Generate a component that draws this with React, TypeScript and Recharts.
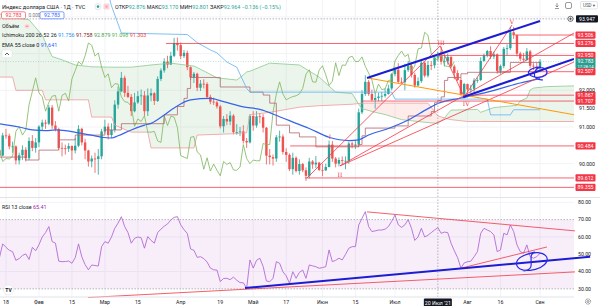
import React from 'react';
import {
  ComposedChart, Bar, Line, Area, XAxis, YAxis, CartesianGrid,
  ReferenceLine, ReferenceArea, ReferenceDot,
} from 'recharts';

const FONT = 'Roboto, "Noto Sans", "DejaVu Sans", sans-serif';
const W = 600;
const H = 306;
const MAIN_H = 197;
const RSI_H = 109;
const AXIS_W = 26;

// bar index 0 = 18 Jan 2021, one step per trading day
const X_MIN = -1.82;
const X_MAX = 172.3;
const P_MIN = 89.0926;
const P_MAX = 94.4605;
const R_MIN = 25.3;
const R_MAX = 82.5;

const UP = '#26a69a';
const DOWN = '#ef5350';
const LEVEL = '#f23645';
const DRAW_BLUE = '#1c1cd4';
const GRID = '#f2f3f6';
const TEXT = '#131722';

// daily candles [open, high, low, close], first row is 14 Jan
const jan = [
  [90.38, 90.45, 90.10, 90.22], [90.22, 90.84, 90.20, 90.77], [90.77, 90.95, 90.68, 90.76],
  [90.76, 90.82, 90.39, 90.47], [90.47, 90.60, 90.30, 90.47], [90.47, 90.50, 89.98, 90.09],
  [90.09, 90.30, 89.98, 90.23], [90.23, 90.50, 90.10, 90.38], [90.38, 90.45, 90.06, 90.15],
  [90.15, 90.72, 90.10, 90.62], [90.62, 90.78, 90.34, 90.43], [90.43, 90.70, 90.30, 90.58],
];
const feb = [
  [90.58, 91.05, 90.45, 91.01], [91.01, 91.20, 90.90, 91.12], [91.12, 91.20, 90.95, 91.09],
  [91.09, 91.60, 91.05, 91.53], [91.53, 91.60, 90.95, 91.04], [91.04, 91.16, 90.88, 90.94],
  [90.94, 90.98, 90.38, 90.43], [90.43, 90.58, 90.20, 90.42], [90.42, 90.52, 90.25, 90.41],
  [90.41, 90.56, 90.32, 90.48], [90.48, 90.50, 90.10, 90.36], [90.36, 90.70, 90.28, 90.49],
  [90.49, 91.05, 90.45, 90.95], [90.95, 90.98, 90.50, 90.58], [90.58, 90.68, 90.12, 90.36],
  [90.36, 90.38, 89.92, 90.06], [90.06, 90.22, 89.90, 90.14], [90.14, 90.30, 89.75, 90.13],
  [90.13, 90.40, 89.70, 90.20], [90.20, 90.95, 90.12, 90.88],
];
const mar = [
  [90.88, 91.20, 90.82, 91.01], [91.01, 91.10, 90.66, 90.78], [90.78, 91.10, 90.70, 90.92],
  [90.92, 91.73, 90.85, 91.61], [91.61, 92.10, 91.50, 91.97], [91.97, 92.50, 91.95, 92.34],
  [92.34, 92.40, 91.82, 91.93], [91.93, 92.12, 91.79, 91.82], [91.82, 91.90, 91.30, 91.43],
  [91.43, 91.93, 91.40, 91.67], [91.67, 91.98, 91.63, 91.84], [91.84, 92.02, 91.60, 91.86],
  [91.86, 91.98, 91.30, 91.43], [91.43, 92.05, 91.30, 91.86], [91.86, 92.05, 91.70, 91.92],
  [91.92, 91.95, 91.60, 91.71], [91.71, 92.38, 91.68, 92.31], [92.31, 92.60, 92.25, 92.54],
  [92.54, 92.87, 92.48, 92.78], [92.78, 92.94, 92.60, 92.70], [92.70, 93.05, 92.70, 92.94],
  [92.94, 93.43, 92.90, 93.29], [93.29, 93.44, 93.08, 93.23],
];
const apr = [
  [93.23, 93.30, 92.85, 92.93], [92.93, 93.10, 92.88, 93.02], [93.02, 93.08, 92.55, 92.63],
  [92.63, 92.65, 92.28, 92.35], [92.35, 92.50, 92.20, 92.45], [92.45, 92.48, 91.98, 92.07],
  [92.07, 92.28, 91.98, 92.18], [92.18, 92.30, 92.05, 92.17], [92.17, 92.22, 91.78, 91.82],
  [91.82, 91.88, 91.62, 91.69], [91.69, 91.80, 91.60, 91.67], [91.67, 91.72, 91.50, 91.56],
  [91.56, 91.60, 90.96, 91.02], [91.02, 91.30, 90.85, 91.22], [91.22, 91.35, 91.05, 91.15],
  [91.15, 91.43, 91.05, 91.31], [91.31, 91.35, 90.80, 90.86], [90.86, 91.08, 90.79, 90.86],
  [90.86, 91.00, 90.75, 90.88], [90.88, 91.05, 90.55, 90.62], [90.62, 90.70, 90.43, 90.58],
  [90.58, 91.35, 90.55, 91.30],
];
const may = [
  [91.30, 91.43, 90.90, 91.04], [91.04, 91.43, 90.98, 91.29], [91.29, 91.38, 91.10, 91.27],
  [91.27, 91.35, 90.85, 90.98], [90.98, 91.00, 89.98, 90.22], [90.22, 90.40, 89.98, 90.18],
  [90.18, 90.25, 89.95, 90.14], [90.14, 90.78, 90.05, 90.72], [90.72, 90.90, 90.60, 90.74],
  [90.74, 90.80, 90.25, 90.32], [90.32, 90.42, 90.05, 90.24], [90.24, 90.28, 89.80, 89.85],
  [89.85, 90.30, 89.70, 90.16], [90.16, 90.20, 89.76, 89.80], [89.80, 90.12, 89.70, 89.99],
  [89.99, 90.02, 89.77, 89.82], [89.82, 89.90, 89.53, 89.67], [89.67, 90.16, 89.60, 90.06],
  [90.06, 90.10, 89.86, 89.98], [89.98, 90.21, 89.88, 90.03], [90.03, 90.05, 89.80, 89.83],
];
const jun = [
  [89.83, 90.00, 89.66, 89.82], [89.82, 90.00, 89.80, 89.91], [89.91, 90.63, 89.90, 90.52],
  [90.52, 90.62, 90.05, 90.14], [90.14, 90.18, 89.90, 90.00], [90.00, 90.17, 89.93, 90.10],
  [90.10, 90.20, 89.98, 90.08], [90.08, 90.20, 89.85, 90.08], [90.08, 90.60, 90.00, 90.55],
  [90.55, 90.60, 90.42, 90.52], [90.52, 90.63, 90.40, 90.52], [90.52, 91.50, 90.45, 91.40],
  [91.40, 92.00, 91.35, 91.90], [91.90, 92.41, 91.85, 92.23], [92.23, 92.28, 91.85, 91.90],
  [91.90, 92.02, 91.70, 91.74], [91.74, 91.90, 91.50, 91.79], [91.79, 91.93, 91.70, 91.83],
  [91.83, 91.95, 91.70, 91.85], [91.85, 92.05, 91.80, 91.90], [91.90, 92.15, 91.88, 92.05],
  [92.05, 92.47, 92.00, 92.44],
];
const jul = [
  [92.44, 92.64, 92.38, 92.56], [92.56, 92.74, 92.20, 92.23], [92.23, 92.35, 92.18, 92.22],
  [92.22, 92.72, 92.00, 92.55], [92.55, 92.80, 92.50, 92.67], [92.67, 92.75, 92.35, 92.42],
  [92.42, 92.48, 92.07, 92.13], [92.13, 92.35, 92.10, 92.25], [92.25, 92.83, 92.20, 92.75],
  [92.75, 92.78, 92.35, 92.40], [92.40, 92.80, 92.35, 92.69], [92.69, 92.80, 92.55, 92.68],
  [92.68, 92.92, 92.60, 92.89], [92.89, 93.05, 92.80, 92.93], [92.93, 93.19, 92.70, 92.78],
  [92.78, 92.95, 92.65, 92.79], [92.79, 93.00, 92.70, 92.91], [92.91, 92.93, 92.60, 92.65],
  [92.65, 92.70, 92.30, 92.47], [92.47, 92.55, 92.25, 92.28], [92.28, 92.35, 91.85, 91.90],
  [91.90, 92.20, 91.78, 92.17],
];
const aug = [
  [92.17, 92.18, 91.94, 92.02], [92.02, 92.15, 91.93, 92.04], [92.04, 92.33, 91.90, 92.27],
  [92.27, 92.35, 92.20, 92.28], [92.28, 92.90, 92.25, 92.80], [92.80, 93.00, 92.78, 92.95],
  [92.95, 93.10, 92.90, 93.07], [93.07, 93.20, 92.85, 92.92], [92.92, 93.05, 92.85, 92.98],
  [92.98, 93.00, 92.45, 92.53], [92.53, 92.70, 92.45, 92.66], [92.66, 93.18, 92.60, 93.13],
  [93.13, 93.25, 92.95, 93.15], [93.15, 93.73, 93.10, 93.58], [93.58, 93.73, 93.40, 93.50],
  [93.50, 93.52, 92.92, 93.00], [93.00, 93.05, 92.80, 92.86], [92.86, 93.02, 92.80, 92.83],
  [92.83, 93.15, 92.80, 93.06], [93.06, 93.10, 92.60, 92.67], [92.67, 92.74, 92.55, 92.65],
  [92.65, 92.75, 92.51, 92.63],
];
const sep = [[92.63, 92.85, 92.52, 92.78]];

// RSI 13, same bars as the candles
const rsiJan = [48, 56, 54, 52.3, 51.5, 46.5, 47.5, 49.3, 50.2, 47, 54, 52];
const rsiFeb = [55.5, 60, 62.5, 66, 57.3, 56.4, 46, 45.7, 45.8, 46.1, 44.8, 48, 56, 48.5, 44, 41, 43.8, 43.5, 43.2, 54.4];
const rsiMar = [57.3, 56.4, 60, 65, 68, 71.7, 66, 62.5, 56.4, 59.2, 60, 59.5, 53.5, 60.2, 58, 56.4, 62.5, 64.5, 66.2, 67.5, 69.8, 71.3, 71.7];
const rsiApr = [67, 64.2, 62, 53, 52.3, 48.2, 48.6, 47.5, 45.5, 42, 41, 40.9, 34.2, 36, 36.1, 35.3, 36.8, 35, 33.6, 33.5, 30.3, 46.7];
const rsiMay = [42, 46.5, 47.7, 43, 34.5, 34.2, 36, 45.7, 44.8, 39.9, 37.5, 33.2, 39.9, 36.1, 39.5, 40.9, 36.1, 43.8, 43.3, 42.8, 41.9];
const rsiJun = [42.3, 42.8, 52.5, 45.7, 46.5, 47.7, 46.7, 50, 53.5, 54.4, 54.4, 66.9, 70.8, 74.6, 66, 63.1, 63.5, 64, 64, 64.5, 66, 69];
const rsiJul = [72.7, 67, 65.5, 67, 70, 65, 58, 60, 65, 60, 61, 62.5, 64, 65.4, 62.1, 62.8, 62.5, 56.4, 52, 48, 42, 45];
const rsiAug = [45.7, 46, 48.6, 51.5, 62.1, 65, 64, 63.1, 61.2, 51.5, 52.5, 62.1, 61.2, 66.9, 63.1, 55.4, 51.5, 50.6, 55.4, 48.6, 47.7, 48.6];
const rsiSep = [50.6];

// Ichimoku (200 26 52 26) and EMA 55 as [bar, price]
const tenkan = [
  [-2, 95.3], [30, 95.0], [32, 94.3], [35, 93.56], [55, 93.52], [58, 93.3], [62, 93.1], [64, 93.02],
  [67, 92.77], [70, 92.63], [73, 92.05], [74, 91.95], [117, 91.95], [118, 91.76], [146, 91.76],
  [147, 91.33], [153, 91.33], [154, 91.47], [162, 91.47],
];
const kijun = [
  [-2, 90.18], [6, 90.1], [10, 90.37], [16, 90.65], [21, 90.78], [30, 90.92], [35, 91.09], [48, 91.33],
  [52, 91.56], [54, 91.78], [55, 92.05], [56, 92.35], [65, 92.09], [74, 91.95], [78, 91.87], [80, 91.65],
  [82, 91.05], [86, 90.84], [89, 90.73], [94, 90.46], [107, 90.52], [108, 90.76], [109, 90.97],
  [118, 91.03], [122, 91.3], [129, 91.42], [130, 91.66], [131, 91.72], [132, 91.82], [133, 92.27],
  [134, 92.35], [138, 92.45], [140, 92.49], [153, 92.76], [162, 92.76],
];
// [bar, leading span A, leading span B]
const cloudRows = [
  [-2, 94.08, 92.36], [2, 94.0, 92.36], [3, 93.98, 92.0], [7, 93.92, 92.0], [11, 93.5, 92.0],
  [12, 93.3, 91.74], [14, 92.92, 91.74], [17, 92.83, 91.74], [21, 92.69, 91.74], [25, 92.65, 91.74],
  [26, 92.64, 91.27], [32, 92.63, 91.27], [33, 92.63, 91.05], [38, 92.63, 90.86], [43, 92.68, 90.86],
  [44, 92.69, 90.43], [50, 92.74, 90.43], [57, 92.66, 90.43], [58, 92.62, 90.78], [64, 92.34, 90.8],
  [70, 92.28, 90.82], [72, 92.42, 90.84], [73, 92.5, 90.84], [74, 92.52, 91.33], [80, 92.74, 91.4],
  [89, 92.69, 91.54], [95, 92.36, 91.58], [100, 91.95, 91.6], [105, 91.91, 91.62], [107, 91.62, 91.64],
  [108, 91.5, 91.65], [112, 91.4, 91.65], [115, 91.34, 91.65], [120, 91.2, 91.65], [128, 91.12, 91.65],
  [131, 91.1, 91.3], [133, 91.24, 91.25], [134, 91.36, 91.22], [135, 91.46, 91.2], [140, 91.47, 91.15],
  [143, 91.48, 91.15], [144, 91.4, 91.15], [148, 91.53, 91.15], [155, 91.59, 91.15], [156, 91.71, 91.15],
  [158, 91.79, 91.15], [159, 92.01, 91.15], [160, 92.06, 91.15], [164, 92.1, 91.15], [172.3, 92.12, 91.15],
];
const ema55 = [
  [-2, 91.09], [4, 91.0], [8, 90.92], [12, 90.9], [15, 90.92], [18, 90.9], [22, 90.84], [27, 90.76],
  [29, 90.72], [32, 90.7], [34, 90.76], [38, 90.92], [42, 91.05], [44, 91.1], [48, 91.33], [51, 91.52],
  [56, 91.74], [62, 91.78], [66, 91.69], [72, 91.55], [77, 91.48], [83, 91.28], [88, 91.1], [92, 90.96],
  [98, 90.72], [104, 90.63], [107, 90.65], [110, 90.78], [116, 90.96], [122, 91.19], [128, 91.5],
  [131, 91.64], [138, 91.79], [146, 91.95], [156, 92.2], [162, 92.32],
];

// horizontal levels: price and the bar they start from
const levels = [
  { p: 93.506, from: 154.4 }, { p: 93.276, from: 48.5 }, { p: 92.95, from: 129.5 },
  { p: 92.507, from: 149 }, { p: 91.867, from: 138.7 }, { p: 91.707, from: 108 },
  { p: 90.484, from: 86.2 }, { p: 89.612, from: 90.7 }, { p: 89.355, from: X_MIN },
];
const LAST_PRICE = 92.783;
const CROSS_BAR = 131;
const CROSS_PRICE = 93.947;

// trend lines [[bar, price], [bar, price]]
const redLines = [
  [[91.3, 89.61], [131.7, 93.21]],
  [[131.7, 93.21], [139, 91.82]],
  [[139, 91.82], [153.5, 93.78]],
  [[101.3, 89.94], [172.3, 93.56]],
  [[101.3, 89.94], [172.3, 92.77]],
];
const orangeLine = [[109.8, 92.335], [172.3, 91.335]];
const blueLines = [
  [[109.5, 92.335], [162, 93.888]],
  [[138.7, 91.817], [172.3, 92.856]],
];
const waves = [
  { t: 'I', i: 98.3, p: 90.73 }, { t: 'II', i: 101.3, p: 89.69 }, { t: 'III', i: 132, p: 93.29 },
  { t: 'IV', i: 139.6, p: 91.63 }, { t: 'V', i: 153.5, p: 93.86 },
];
const priceLoop = [
  [162.3, 92.635], [159.6, 92.608], [158.1, 92.499], [159.0, 92.39], [161.4, 92.335], [163.8, 92.39],
  [164.4, 92.526], [162.9, 92.635], [160.5, 92.608], [159.9, 92.31], [162.9, 92.28],
];

// RSI pane drawings [[bar, rsi], [bar, rsi]]
const rsiBlue = [[72.5, 30.5], [177.2, 48.5]];
const rsiRed = [
  [[24.9, 25.0], [172.6, 39.8]],
  [[109.5, 74.5], [172.6, 63.5]],
  [[138.3, 42.1], [164.1, 54.2]],
];
const rsiLoop = [
  [160.5, 51.3], [156.0, 49.0], [154.4, 45.0], [155.6, 40.9], [159.0, 40.3], [162.3, 42.1],
  [164.4, 45.5], [164.1, 49.6], [161.4, 51.3], [158.7, 50.8], [159.9, 41.5], [157.0, 40.3],
];

const priceTicks = [90, 91, 91.5, 92];
const priceGrid = [89.5, 90, 90.5, 91, 91.5, 92, 92.5, 93, 93.5, 94];
const rsiTicks = [30, 40, 50, 60, 70, 80];
const timeTicks = [0, 10, 20, 30, 40, 53, 65, 75, 85, 96, 106, 118, 140, 150, 162];
const timeLabels = ['18', 'Фев', '15', 'Мар', '15', 'Апр', '19', 'Май', '17', 'Июн', '15', 'Июл', 'Авг', '16', 'Сен'];

const candles = [...jan, ...feb, ...mar, ...apr, ...may, ...jun, ...jul, ...aug, ...sep]
  .map(([o, h, l, c], k) => ({ i: k - 2, o, h, l, c }));
const lagging = candles.map((d) => ({ i: d.i - 26, v: d.c }));
const rsiRows = [...rsiJan, ...rsiFeb, ...rsiMar, ...rsiApr, ...rsiMay, ...rsiJun, ...rsiJul, ...rsiAug, ...rsiSep]
  .map((r, k) => ({ i: k - 2, r }));
const pts = (arr: number[][]) => arr.map(([i, v]) => ({ i, v }));
const cloud = cloudRows.map(([i, a, b]) => ({ i, a, b }));
const seg = (s: number[][]) => [{ x: s[0][0], y: s[0][1] }, { x: s[1][0], y: s[1][1] }];

const Candle = (props: any) => {
  const { x, y, width, height, payload } = props;
  if (!payload) return null;
  const { o, h, l, c } = payload;
  const color = c >= o ? UP : DOWN;
  const top = Math.min(y, y + height);
  const hh = Math.abs(height);
  const k = h === l ? 0 : hh / (h - l);
  const cx = x + width / 2;
  const yo = top + (h - o) * k;
  const yc = top + (h - c) * k;
  return (
    <g>
      <line x1={cx} x2={cx} y1={top} y2={top + hh} stroke={color} strokeWidth={0.8} />
      <rect x={cx - 1.2} y={Math.min(yo, yc)} width={2.4} height={Math.max(Math.abs(yo - yc), 0.8)} fill={color} />
    </g>
  );
};

const PriceTag = ({ viewBox, text, sub, bg }: any) => {
  if (!viewBox) return null;
  const x = viewBox.x + viewBox.width + 1.5;
  const y = viewBox.y;
  return (
    <g fontFamily={FONT}>
      <rect x={x} y={y - 3.6} width={20} height={sub ? 10.4 : 7.2} rx={1} fill={bg} />
      <text x={x + 10} y={y + 1.8} textAnchor="middle" fontSize={5.2} fill="#fff">{text}</text>
      {sub && <text x={x + 10} y={y + 6.3} textAnchor="middle" fontSize={4.2} fill="#fff">{sub}</text>}
    </g>
  );
};

const CrossTag = ({ viewBox }: any) => {
  if (!viewBox) return null;
  const x = viewBox.x + viewBox.width;
  const y = viewBox.y;
  return (
    <g fontFamily={FONT}>
      <circle cx={x - 3.5} cy={y} r={2.6} fill="#fff" stroke={TEXT} strokeWidth={0.6} />
      <path d={`M${x - 5} ${y}H${x - 2}M${x - 3.5} ${y - 1.5}V${y + 1.5}`} stroke={TEXT} strokeWidth={0.6} />
      <rect x={x + 2} y={y - 3.6} width={22} height={7.2} rx={1} fill={TEXT} />
      <text x={x + 13} y={y + 1.8} textAnchor="middle" fontSize={5.2} fill="#fff">{CROSS_PRICE.toFixed(3)}</text>
    </g>
  );
};

const DateTag = ({ viewBox }: any) => {
  if (!viewBox) return null;
  const x = viewBox.x;
  const y = viewBox.y + viewBox.height;
  return (
    <g fontFamily={FONT}>
      <rect x={x - 14} y={y + 1.5} width={28} height={8.5} rx={1} fill={TEXT} />
      <text x={x} y={y + 7.6} textAnchor="middle" fontSize={5.2} fill="#fff">20 Июл '21</text>
    </g>
  );
};

const lineProps = { dot: false, activeDot: false, isAnimationActive: false } as const;

const MainPane = () => (
  <ComposedChart width={W} height={MAIN_H} data={candles} margin={{ top: 0, right: 0, bottom: 0, left: 0 }}>
    <CartesianGrid stroke={GRID} verticalValues={timeTicks} horizontalValues={priceGrid} />
    <XAxis dataKey="i" type="number" domain={[X_MIN, X_MAX]} allowDataOverflow hide ticks={timeTicks} />
    <YAxis
      orientation="right" width={AXIS_W} domain={[P_MIN, P_MAX]} allowDataOverflow ticks={priceTicks}
      tickFormatter={(v: number) => v.toFixed(3)} axisLine={false} tickLine={false} tickSize={0} tickMargin={5}
      tick={{ fontSize: 5.2, fill: TEXT, fontFamily: FONT }}
    />
    <Area data={cloud} dataKey={(d: any) => (d.a >= d.b ? [d.b, d.a] : [d.b, d.b])} type="linear"
      stroke="none" fill="#43a047" fillOpacity={0.1} {...lineProps} />
    <Area data={cloud} dataKey={(d: any) => (d.b > d.a ? [d.a, d.b] : [d.a, d.a])} type="linear"
      stroke="none" fill="#f44336" fillOpacity={0.1} {...lineProps} />
    <Line data={cloud} dataKey="a" type="linear" stroke="#8bc98e" strokeWidth={0.8} {...lineProps} />
    <Line data={cloud} dataKey="b" type="linear" stroke="#ef9a9a" strokeWidth={0.8} {...lineProps} />
    <Line data={lagging} dataKey="v" type="linear" stroke="#7cb55a" strokeWidth={0.8} {...lineProps} />
    <Line data={pts(kijun)} dataKey="v" type="stepAfter" stroke="#b0686e" strokeWidth={0.8} {...lineProps} />
    <Line data={pts(tenkan)} dataKey="v" type="linear" stroke="#5fb0f2" strokeWidth={0.8} {...lineProps} />
    <Line data={pts(ema55)} dataKey="v" type="monotone" stroke="#3563e9" strokeWidth={1.2} {...lineProps} />

    <ReferenceLine y={LAST_PRICE} stroke={UP} strokeOpacity={0.45} strokeDasharray="1 1.5" strokeWidth={0.7} />
    {levels.map((lv) => (
      <ReferenceLine key={'l' + lv.p} segment={[{ x: lv.from, y: lv.p }, { x: X_MAX, y: lv.p }]}
        stroke={LEVEL} strokeOpacity={0.85} strokeWidth={0.9} ifOverflow="hidden" />
    ))}

    <Bar dataKey={(d: any) => [d.l, d.h]} barSize={3} shape={<Candle />} isAnimationActive={false} />

    {redLines.map((s, k) => (
      <ReferenceLine key={'r' + k} segment={seg(s)} stroke={LEVEL} strokeWidth={0.8} ifOverflow="hidden" />
    ))}
    <ReferenceLine segment={seg(orangeLine)} stroke="#ff9800" strokeWidth={1} ifOverflow="hidden" />
    {blueLines.map((s, k) => (
      <ReferenceLine key={'b' + k} segment={seg(s)} stroke={DRAW_BLUE} strokeWidth={2} ifOverflow="hidden" />
    ))}
    {waves.map((w) => (
      <ReferenceDot key={w.t} x={w.i} y={w.p} r={0}
        shape={(sp: any) => (
          <text x={sp.cx} y={sp.cy + 2} textAnchor="middle" fontSize={6} fill={LEVEL} fontFamily="DejaVu Serif, serif">{w.t}</text>
        )} />
    ))}
    <Line data={pts(priceLoop)} dataKey="v" type="basis" stroke="#2a2ae6" strokeWidth={1.2} {...lineProps} />

    <ReferenceLine x={CROSS_BAR} stroke="#9598a1" strokeDasharray="1.5 1.5" strokeWidth={0.7} />
    <ReferenceLine y={CROSS_PRICE} stroke="#9598a1" strokeDasharray="1.5 1.5" strokeWidth={0.7}
      label={(lp: any) => <CrossTag viewBox={lp.viewBox} />} />
    {levels.map((lv) => (
      <ReferenceLine key={'t' + lv.p} y={lv.p} stroke="none"
        label={(lp: any) => <PriceTag viewBox={lp.viewBox} text={lv.p.toFixed(3)} bg={LEVEL} />} />
    ))}
    <ReferenceLine y={LAST_PRICE} stroke="none"
      label={(lp: any) => <PriceTag viewBox={lp.viewBox} text={LAST_PRICE.toFixed(3)} sub="17:28:14" bg="#2a9d8f" />} />
  </ComposedChart>
);

const RsiPane = () => (
  <ComposedChart width={W} height={RSI_H} data={rsiRows} margin={{ top: 1, right: 0, bottom: 0, left: 0 }}>
    <CartesianGrid stroke={GRID} verticalValues={timeTicks} horizontalValues={rsiTicks} />
    <XAxis
      dataKey="i" type="number" domain={[X_MIN, X_MAX]} allowDataOverflow ticks={timeTicks} height={9}
      tickFormatter={(v: number) => timeLabels[timeTicks.indexOf(v)]} axisLine={{ stroke: '#e0e3eb' }}
      tickLine={false} tickSize={0} tickMargin={3} interval={0}
      tick={{ fontSize: 5.2, fill: TEXT, fontFamily: FONT }}
    />
    <YAxis
      orientation="right" width={AXIS_W} domain={[R_MIN, R_MAX]} allowDataOverflow ticks={rsiTicks}
      tickFormatter={(v: number) => v.toFixed(2)} axisLine={false} tickLine={false} tickSize={0} tickMargin={4}
      tick={{ fontSize: 5.2, fill: TEXT, fontFamily: FONT }}
    />
    <ReferenceArea y1={30} y2={70} fill="#9c27b0" fillOpacity={0.08} stroke="none" />
    <ReferenceLine y={70} stroke="#9598a1" strokeDasharray="1.5 1.5" strokeWidth={0.7} />
    <ReferenceLine y={30} stroke="#9598a1" strokeDasharray="1.5 1.5" strokeWidth={0.7} />
    <Line dataKey="r" type="linear" stroke="#b36ad6" strokeWidth={0.9} {...lineProps} />
    {rsiRed.map((s, k) => (
      <ReferenceLine key={'rr' + k} segment={seg(s)} stroke={LEVEL} strokeWidth={0.8} ifOverflow="visible" />
    ))}
    <ReferenceLine segment={seg(rsiBlue)} stroke={DRAW_BLUE} strokeWidth={2} ifOverflow="visible" />
    <Line data={pts(rsiLoop)} dataKey="v" type="basis" stroke="#2a2ae6" strokeWidth={1.2} {...lineProps} />
    <ReferenceLine x={CROSS_BAR} stroke="#9598a1" strokeDasharray="1.5 1.5" strokeWidth={0.7}
      label={(lp: any) => <DateTag viewBox={lp.viewBox} />} />
  </ComposedChart>
);

const Overlay = () => (
  <svg width={W} height={H} style={{ position: 'absolute', left: 0, top: 0, pointerEvents: 'none' }} fontFamily={FONT}>
    <line x1={0} x2={W} y1={MAIN_H + 0.5} y2={MAIN_H + 0.5} stroke="#e0e3eb" strokeWidth={1} />
    <text x={2} y={8.6} fontSize={5.6} fill={TEXT}>Индекс доллара США · 1Д · TVC</text>
    <circle cx={98} cy={6.6} r={3} fill="#fff" stroke="#d1d4dc" strokeWidth={0.6} />
    <circle cx={98} cy={6.6} r={1.3} fill={UP} />
    <rect x={103.5} y={3.6} width={6} height={6} rx={1.2} fill="#fbd5da" />
    <circle cx={106.5} cy={6.6} r={1.2} fill="#f7a1ac" />
    <text x={115} y={8.6} fontSize={5.4} fill={UP}>
      <tspan fill={TEXT}>ОТКР</tspan>92.876{' '}
      <tspan fill={TEXT}>МАКС</tspan>93.170{' '}
      <tspan fill={TEXT}>МИН</tspan>92.801{' '}
      <tspan fill={TEXT}>ЗАКР</tspan>92.964 −0.136 (−0.15%)
    </text>
    <rect x={1.5} y={11.8} width={24} height={7} rx={1.5} fill="#fff" stroke={LEVEL} strokeWidth={0.6} />
    <text x={13.5} y={17} textAnchor="middle" fontSize={5.2} fill={LEVEL}>92.783</text>
    <text x={28.5} y={17} fontSize={4.8} fill="#787b86">0.000</text>
    <rect x={40} y={11.8} width={24} height={7} rx={1.5} fill="#fff" stroke="#2962ff" strokeWidth={0.6} />
    <text x={52} y={17} textAnchor="middle" fontSize={5.2} fill="#2962ff">92.783</text>
    <text x={2} y={28} fontSize={5.4} fill={TEXT}>Объём</text>
    <circle cx={27} cy={26.2} r={2.6} fill="#fcdde1" />
    <path d="M25.6 26.2h2.8" stroke="#f23645" strokeWidth={0.6} />
    <text x={2} y={36.6} fontSize={5.4} fill={TEXT}>
      Ichimoku 200 26 52 26{'  '}
      <tspan fill="#2196f3">91.756</tspan>{' '}
      <tspan fill="#801922">91.758</tspan>{' '}
      <tspan fill="#43a047">92.879</tspan>{' '}
      <tspan fill="#4caf50">91.098</tspan>{' '}
      <tspan fill="#f44336">91.303</tspan>
    </text>
    <text x={2} y={46.6} fontSize={5.4} fill={TEXT}>
      EMA 55 close 0{'  '}<tspan fill="#2962ff">91.641</tspan>
    </text>
    <rect x={2} y={49.8} width={10} height={8} rx={1.5} fill="#fff" stroke="#e0e3eb" strokeWidth={0.6} />
    <path d="M5 55l2-2 2 2" fill="none" stroke={TEXT} strokeWidth={0.7} />
    <text x={2} y={208.8} fontSize={5.4} fill={TEXT}>
      RSI 13 close{'  '}<tspan fill="#9c27b0">65.41</tspan>
    </text>
    <circle cx={8.5} cy={290} r={5} fill="#fff" stroke="#e0e3eb" strokeWidth={0.6} />
    <text x={8.5} y={292} textAnchor="middle" fontSize={5} fontWeight="bold" fill={TEXT}>TV</text>
    <path d="M557 3v4M555.5 5.5l1.5 1.5 1.5-1.5M555 8.5h4" fill="none" stroke="#555" strokeWidth={0.6} />
    <rect x={565.5} y={2.5} width={6} height={6} rx={1.5} fill="none" stroke="#555" strokeWidth={0.6} />
    <rect x={580.5} y={1.5} width={17} height={7.5} rx={1.5} fill="#fff" stroke="#d1d4dc" strokeWidth={0.6} />
    <text x={589} y={7} textAnchor="middle" fontSize={4.6} fill="#555">USD ▾</text>
    <circle cx={588} cy={301.5} r={2.6} fill="none" stroke="#555" strokeWidth={0.8} strokeDasharray="1 0.6" />
    <circle cx={588} cy={301.5} r={1} fill="none" stroke="#555" strokeWidth={0.6} />
  </svg>
);

export default function App() {
  return (
    <div style={{ position: 'fixed', left: 0, top: 0, width: W, height: H, background: '#fff', overflow: 'hidden' }}>
      <div style={{ position: 'absolute', left: 0, top: 0 }}>
        <MainPane />
      </div>
      <div style={{ position: 'absolute', left: 0, top: MAIN_H }}>
        <RsiPane />
      </div>
      <Overlay />
    </div>
  );
}
